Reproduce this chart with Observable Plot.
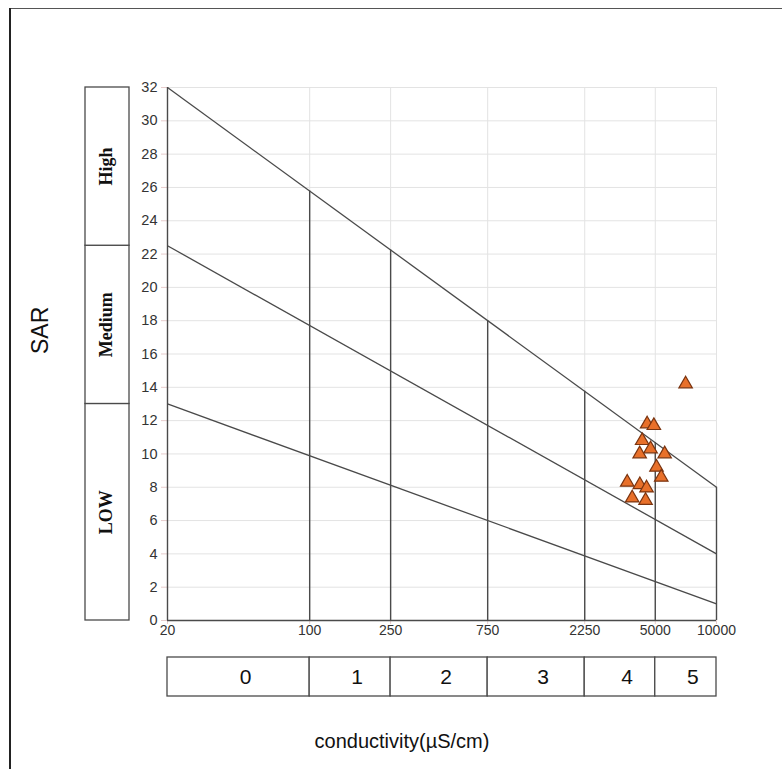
<!DOCTYPE html>
<html>
<head>
<meta charset="utf-8">
<script src="https://cdn.jsdelivr.net/npm/d3@7"></script>
<script src="https://cdn.jsdelivr.net/npm/@observablehq/plot@0.6"></script>
<style>
  html, body { margin: 0; padding: 0; background: #fff; }
  #wrap { position: relative; width: 782px; height: 769px; overflow: hidden; font-family: "Liberation Sans", Arial, sans-serif; }
  #wrap > div.layer { position: absolute; }
  #frameTop { position: absolute; left: 9px; top: 8px; width: 773px; height: 0; border-top: 1px solid #555; }
  #frameLeft { position: absolute; left: 9px; top: 8px; width: 0; height: 761px; border-left: 2px solid #222; }
</style>
</head>
<body>
<div id="wrap">
  <div id="frameTop"></div>
  <div id="frameLeft"></div>
  <div class="layer" id="main" style="left:0;top:0"></div>
  <div class="layer" id="left" style="left:84px;top:0"></div>
  <div class="layer" id="bottom" style="left:0;top:647px"></div>
</div>
<script>
// ---- data ----
const ecValues  = [7050, 4560, 4920, 4310, 4740, 4190, 5560, 5070, 5350, 3640, 4200, 4530, 3850, 4480];
const sarValues = [14.2, 11.8, 11.7, 10.8, 10.3, 10.0, 10.0, 9.2, 8.6, 8.3, 8.15, 7.95, 7.35, 7.2];

const yTicks = [0, 2, 4, 6, 8, 10, 12, 14, 16, 18, 20, 22, 24, 26, 28, 30, 32];
const xTicks = [20, 100, 250, 750, 2250, 5000, 10000];
const salinityBreaks = [20, 100, 250, 750, 2250, 5000, 10000];
const salinityLabels = ["0", "1", "2", "3", "4", "5"];

// hazard boundary lines: SAR at EC=20 and at EC=10000
const lineEC = [20, 10000];
const lineHigh = [32, 8];
const lineMedium = [22.5, 4];
const lineLow = [13, 1];

const sodiumBounds = [0, 13, 22.5, 32];
const sodiumLabels = ["LOW", "Medium", "High"];

// ---- derived tables ----
const points = ecValues.map((ec, i) => ({ ec, sar: sarValues[i] }));
const hazardLines = [lineHigh, lineMedium, lineLow].map(s => ({ x1: lineEC[0], x2: lineEC[1], y1: s[0], y2: s[1] }));
const topAt = ec => lineHigh[0] + (lineHigh[1] - lineHigh[0]) * Math.log(ec / lineEC[0]) / Math.log(lineEC[1] / lineEC[0]);
const dividers = salinityBreaks.slice(1).map(ec => ({ ec, top: topAt(ec) }));
const salinityCells = salinityLabels.map((label, i) => ({ label, lo: salinityBreaks[i], hi: salinityBreaks[i + 1] }));
const sodiumCells = sodiumLabels.map((label, i) => ({ label, lo: sodiumBounds[i], hi: sodiumBounds[i + 1] }));

const FONT = "'Liberation Sans', Arial, sans-serif";
const DARK = "#4a4a4a";

const main = Plot.plot({
  width: 782, height: 769,
  marginLeft: 167, marginRight: 66, marginTop: 87, marginBottom: 149,
  style: { background: "transparent", fontFamily: FONT, fontSize: "14px", overflow: "visible" },
  x: { type: "log", domain: [20, 10000] },
  y: { domain: [0, 32] },
  marks: [
    Plot.gridY(yTicks, { stroke: "#e3e3e3", strokeOpacity: 1 }),
    Plot.gridX(xTicks, { stroke: "#e3e3e3", strokeOpacity: 1 }),
    Plot.axisY(yTicks, { tickSize: 6, text: null, stroke: "#e6cccc", label: null }),
    Plot.text(yTicks, { y: d => d, frameAnchor: "left", dx: -10, textAnchor: "end", text: d => String(d), fill: "#333", fontSize: 14.5, fontFamily: FONT }),
    Plot.axisX(xTicks, { tickSize: 4, text: null, stroke: "#e6cccc", label: null }),
    Plot.text(xTicks, { x: d => d, frameAnchor: "bottom", dy: 14, text: d => String(d), fill: "#333", fontSize: 14, fontFamily: FONT }),
    Plot.ruleX([lineEC[0]], { y1: 0, y2: lineHigh[0], stroke: DARK, strokeWidth: 1.4 }),
    Plot.ruleY([0], { x1: lineEC[0], x2: lineEC[1], stroke: DARK, strokeWidth: 1.4 }),
    Plot.link(hazardLines, { x1: "x1", y1: "y1", x2: "x2", y2: "y2", stroke: DARK, strokeWidth: 1.3 }),
    Plot.ruleX(dividers, { x: "ec", y1: 0, y2: "top", stroke: DARK, strokeWidth: 1.4 }),
    Plot.dot(points, { x: "ec", y: "sar", symbol: "triangle", r: 5, fill: "#e8702a", stroke: "#7a3410", strokeWidth: 1.2 }),
    Plot.text(["SAR"], { frameAnchor: "left", dx: -127, rotate: -90, fontSize: 23, fill: "#111", fontFamily: FONT }),
    Plot.text(["conductivity(µS/cm)"], { frameAnchor: "bottom", dx: -40, dy: 127, fontSize: 20, fill: "#111", fontFamily: FONT })
  ]
});
document.getElementById("main").appendChild(main);

const left = Plot.plot({
  width: 46, height: 769,
  marginLeft: 1, marginRight: 1, marginTop: 87, marginBottom: 149,
  style: { background: "transparent" },
  x: { domain: [0, 1], axis: null },
  y: { domain: [0, 32], axis: null },
  marks: [
    Plot.rect(sodiumCells, { y1: "lo", y2: "hi", fill: "white", stroke: DARK, strokeWidth: 1.3 }),
    Plot.text(sodiumCells, { y: d => (d.lo + d.hi) / 2, text: "label", rotate: -90, dx: -1, fontSize: 18, fontWeight: "bold", fontFamily: "'Liberation Serif', 'Times New Roman', serif", fill: "#111" })
  ]
});
document.getElementById("left").appendChild(left);

const bottom = Plot.plot({
  width: 782, height: 60,
  marginLeft: 167, marginRight: 66, marginTop: 10, marginBottom: 11,
  style: { background: "transparent", fontFamily: FONT },
  x: { type: "log", domain: [20, 10000], axis: null },
  y: { domain: [0, 1], axis: null },
  marks: [
    Plot.rect(salinityCells, { x1: "lo", x2: "hi", fill: "white", stroke: DARK, strokeWidth: 1.3 }),
    Plot.text(salinityCells, { x: d => Math.sqrt(d.lo * d.hi), text: "label", dx: 7, fontSize: 21, fill: "#111" })
  ]
});
document.getElementById("bottom").appendChild(bottom);
</script>
</body>
</html>
